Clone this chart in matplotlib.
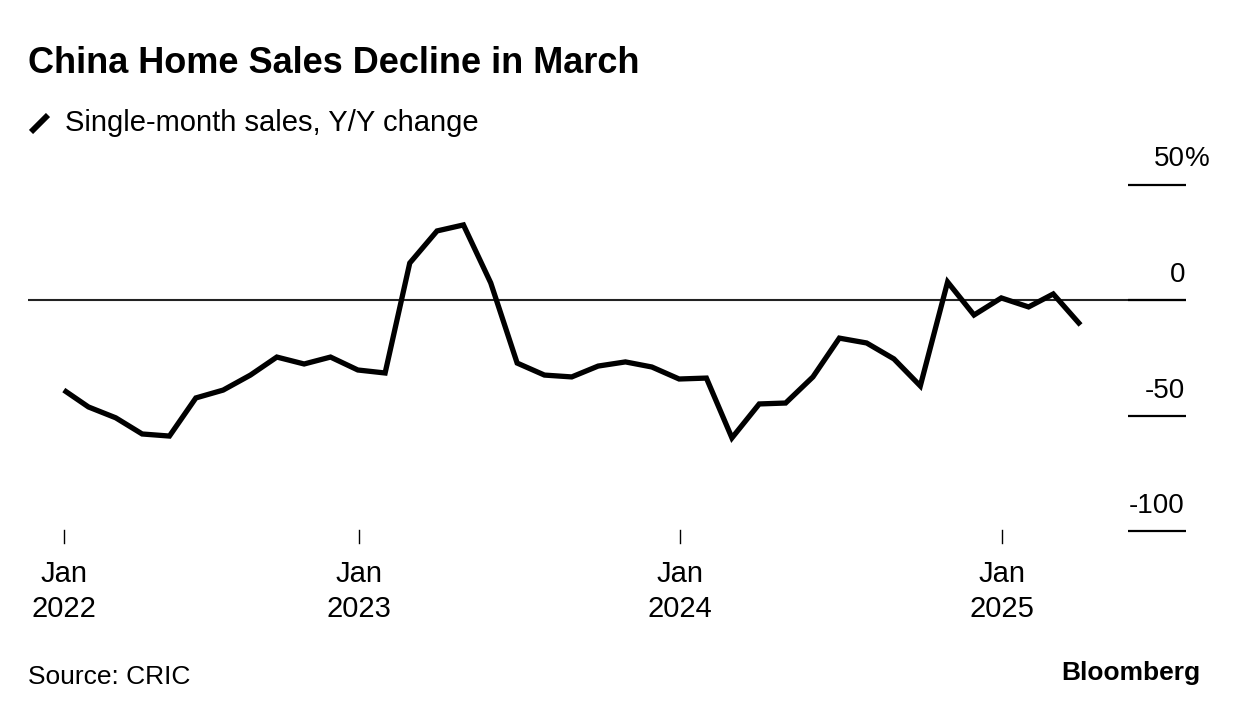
import matplotlib
matplotlib.use("Agg")
import matplotlib.pyplot as plt
import matplotlib.dates as mdates
import matplotlib.transforms as mtransforms
import pandas as pd
import numpy as np

# ---- data ----
dates = pd.date_range("2022-01-31", "2025-03-31", freq="ME")
values = [-39.0, -46.3, -51.0, -58.0, -58.9, -42.4, -39.0, -32.5, -24.7, -27.7, -24.7, -30.3,
          -31.6, 16.0, 29.9, 32.5, 7.4, -27.3, -32.5, -33.3, -28.6, -26.8, -29.0, -34.2,
          -33.8, -59.7, -45.0, -44.6, -33.3, -16.5, -18.6, -25.5, -37.2, 7.8, -6.5, 0.9,
          -3.0, 2.6, -10.8]
y_ticks = [50, 0, -50, -100]
y_labels = ["50", "0", "-50", "-100"]
x_tick_dates = [pd.Timestamp("2022-01-31"), pd.Timestamp("2023-01-01"),
                pd.Timestamp("2024-01-01"), pd.Timestamp("2025-01-01")]
x_tick_labels = ["Jan\n2022", "Jan\n2023", "Jan\n2024", "Jan\n2025"]

title = "China Home Sales Decline in March"
subtitle = "Single-month sales, Y/Y change"
source = "Source: CRIC"

W, H = 1240, 716
FONT = "Liberation Sans"
plt.rcParams['font.family'] = [FONT, 'DejaVu Sans']

fig = plt.figure(figsize=(W / 100, H / 100), dpi=100)

# pixel geometry
ax_left_px, ax_right_px = 28, 1186
zero_px = 300.0
px_per_unit = 2.31
ymin, ymax = -110, 65
top_px = zero_px - ymax * px_per_unit
bot_px = zero_px - ymin * px_per_unit

ax = fig.add_axes([ax_left_px / W, 1 - bot_px / H,
                   (ax_right_px - ax_left_px) / W, (bot_px - top_px) / H])

# x mapping: Jan 1 2023 at 358.7 px, 321.3 px per 365 days
ref = mdates.date2num(pd.Timestamp("2023-01-01"))
ppd = 321.3 / 365.0
xmin = ref - (358.7 - ax_left_px) / ppd
xmax = ref + (ax_right_px - 358.7) / ppd
ax.set_xlim(xmin, xmax)
ax.set_ylim(ymin, ymax)

for s in ax.spines.values():
    s.set_visible(False)
ax.set_yticks([])
ax.set_xticks([])

# zero line
ax.axhline(0, color="#222222", lw=1.5, zorder=1)

# right-side tick segments
seg_x0 = (1128 - ax_left_px) / (ax_right_px - ax_left_px)
trans = mtransforms.blended_transform_factory(ax.transAxes, ax.transData)
for v, lab in zip(y_ticks, y_labels):
    ax.plot([seg_x0, 1.0], [v, v], transform=trans, color="black", lw=1.6,
            solid_capstyle="butt", zorder=2, clip_on=False)
    off = mtransforms.offset_copy(trans, fig=fig, x=-1, y=18, units="dots")
    ax.text(1.0, v, lab, transform=off, ha="right", va="baseline",
            fontsize=20, color="black")
    if v == 50:
        ax.text(1.0, v, "%", transform=off, ha="left", va="baseline",
                fontsize=20, color="black")

# main line
ax.plot(mdates.date2num(dates), values, color="black", lw=3.8,
        solid_joinstyle="miter", solid_capstyle="butt", zorder=3, clip_on=False)

# x ticks
xtrans = mtransforms.blended_transform_factory(ax.transData, fig.transFigure)
for d, lab in zip(x_tick_dates, x_tick_labels):
    xd = mdates.date2num(d)
    ax.plot([xd, xd], [1 - 530 / H, 1 - 543 / H], transform=xtrans, color="black",
            lw=1.0, clip_on=False)
    j, yr = lab.split("\n")
    ax.text(xd, 1 - 582 / H, j, transform=xtrans, ha="center", va="baseline",
            fontsize=21, color="black")
    ax.text(xd, 1 - 617 / H, yr, transform=xtrans, ha="center", va="baseline",
            fontsize=21, color="black")

# title / subtitle
fig.text(28 / W, 1 - 73 / H, title, fontsize=26, fontweight="bold",
         ha="left", va="baseline", color="black")
fig.text(65 / W, 1 - 131 / H, subtitle, fontsize=21, ha="left",
         va="baseline", color="black")
# legend slash icon
fig.add_artist(plt.Line2D([31 / W, 48 / W], [1 - 132 / H, 1 - 115 / H],
                          transform=fig.transFigure, color="black", lw=4.2,
                          solid_capstyle="butt"))

# footer
fig.text(28 / W, 1 - 684 / H, source, fontsize=19, ha="left", va="baseline",
         color="black")
fig.text(1200 / W, 1 - 680 / H, "Bloomberg", fontsize=19, fontweight="bold",
         ha="right", va="baseline", color="black")

fig.savefig("out.png", dpi=100, facecolor="white")
